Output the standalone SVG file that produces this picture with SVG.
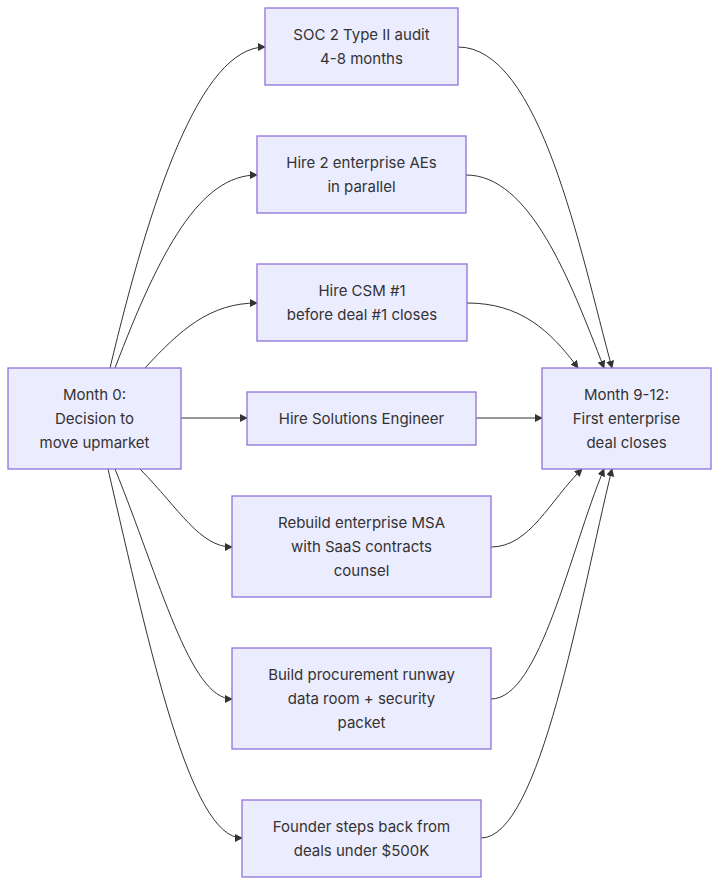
<svg xmlns="http://www.w3.org/2000/svg" width="720" height="886" viewBox="0 0 720 886">
<defs>
<marker id="ah" viewBox="0 0 10 10" refX="9" refY="5" markerWidth="8" markerHeight="8" orient="auto"><path d="M0,0 L10,5 L0,10 z" fill="#333"/></marker>
<style>
.n rect{fill:#ECECFF;stroke:#9370DB;stroke-width:1.3}
.n text{font-family:Inter,"Open Sans",sans-serif;font-size:15px;fill:#333;text-anchor:middle;dominant-baseline:central}
.e path{fill:none;stroke:#333;stroke-width:1;marker-end:url(#ah)}
</style>
</defs>
<rect width="720" height="886" fill="#fff"/>
<g class="e" id="connectors">
<path d="M110,368 C150,200 200,47 265,47"/>
<path d="M115,368 C160,250 200,175 257,175"/>
<path d="M145,368 C180,330 210,303 257,303"/>
<path d="M181,418 L247,418"/>
<path d="M140,469 C180,510 200,547 232,547"/>
<path d="M115,469 C160,580 190,699 232,699"/>
<path d="M108,469 C150,650 190,838 242,838"/>
<path d="M458,47 C540,47 580,250 612,368"/>
<path d="M466,175 C530,175 570,280 604,368"/>
<path d="M467,303 C520,303 550,330 578,368"/>
<path d="M476,418 L542,418"/>
<path d="M491,547 C530,547 550,500 582,469"/>
<path d="M491,699 C540,699 570,550 604,469"/>
<path d="M481,838 C540,838 580,600 612,469"/>
</g>
<g class="n" id="m0"><rect x="8" y="368" width="173" height="101"/><text x="94.5" y="394">Month 0:</text><text x="94.5" y="418">Decision to</text><text x="94.5" y="442">move upmarket</text></g>
<g class="n" id="soc"><rect x="265" y="8" width="193" height="77"/><text x="361.5" y="34">SOC 2 Type II audit</text><text x="361.5" y="58">4-8 months</text></g>
<g class="n" id="ae"><rect x="257" y="136" width="209" height="77"/><text x="361.5" y="162">Hire 2 enterprise AEs</text><text x="361.5" y="186">in parallel</text></g>
<g class="n" id="csm"><rect x="257" y="264" width="210" height="77"/><text x="362" y="290">Hire CSM #1</text><text x="362" y="314">before deal #1 closes</text></g>
<g class="n" id="se"><rect x="247" y="392" width="229" height="53"/><text x="361.5" y="418">Hire Solutions Engineer</text></g>
<g class="n" id="msa"><rect x="232" y="496" width="259" height="101"/><text x="361.5" y="522">Rebuild enterprise MSA</text><text x="361.5" y="546">with SaaS contracts</text><text x="361.5" y="570">counsel</text></g>
<g class="n" id="proc"><rect x="232" y="648" width="259" height="101"/><text x="361.5" y="674">Build procurement runway</text><text x="361.5" y="698">data room + security</text><text x="361.5" y="722">packet</text></g>
<g class="n" id="founder"><rect x="242" y="800" width="239" height="77"/><text x="361.5" y="826">Founder steps back from</text><text x="361.5" y="850">deals under $500K</text></g>
<g class="n" id="m9"><rect x="542" y="368" width="169" height="101"/><text x="626.5" y="394">Month 9-12:</text><text x="626.5" y="418">First enterprise</text><text x="626.5" y="442">deal closes</text></g>
</svg>
